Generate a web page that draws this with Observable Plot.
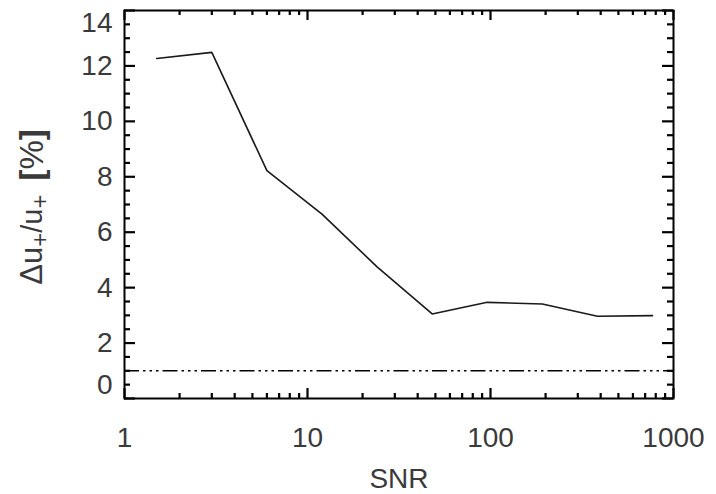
<!DOCTYPE html>
<html>
<head>
<meta charset="utf-8">
<script src="https://cdn.jsdelivr.net/npm/d3@7"></script>
<script src="https://cdn.jsdelivr.net/npm/@observablehq/plot@0.6"></script>
<style>
  body { margin: 0; background: #fff; }
</style>
</head>
<body>
<div id="chart"></div>
<script>
// Data
const snr = [1.5, 3, 6, 12, 24, 48, 96, 192, 384, 768];
const deltaU = [12.27, 12.49, 8.22, 6.65, 4.75, 3.05, 3.47, 3.41, 2.97, 2.99];
const referenceLevel = [1];

// Tick values
const xMajor = [1, 10, 100, 1000];
const xMinor = [2, 3, 4, 5, 6, 7, 8, 9, 20, 30, 40, 50, 60, 70, 80, 90, 200, 300, 400, 500, 600, 700, 800, 900];
const yMajor = [0, 2, 4, 6, 8, 10, 12, 14];
const yMinor = [0.5, 1, 1.5, 2.5, 3, 3.5, 4.5, 5, 5.5, 6.5, 7, 7.5, 8.5, 9, 9.5, 10.5, 11, 11.5, 12.5, 13, 13.5];
const yLabelsInner = [2, 4, 6, 8, 10, 12];
const yLabelTop = [14];
const yLabelBottom = [0];

const table = snr.map((s, i) => ({snr: s, du: deltaU[i]}));

const W = 716, H = 494;
const M = {left: 124, right: 43, top: 10, bottom: 96};
const plotW = W - M.left - M.right;
const plotH = H - M.top - M.bottom;
const ink = "#000";
const labelColor = "#3a3a3a";

// inward ticks drawn with the library's tick marks, shortened by insets
const xTicks = (values, side, len) => Plot.tickX(values, {
  x: d => d, stroke: ink, strokeWidth: 2.2,
  insetTop: side === "bottom" ? plotH - len : 0,
  insetBottom: side === "top" ? plotH - len : 0
});
const yTicks = (values, side, len) => Plot.tickY(values, {
  y: d => d, stroke: ink, strokeWidth: 2.2,
  insetRight: side === "left" ? plotW - len : 0,
  insetLeft: side === "right" ? plotW - len : 0
});

const chart = Plot.plot({
  width: W,
  height: H,
  marginLeft: M.left,
  marginRight: M.right,
  marginTop: M.top,
  marginBottom: M.bottom,
  style: {fontFamily: "Liberation Sans, Arial, sans-serif", fontSize: "28px"},
  x: {type: "log", domain: [1, 1000], axis: null},
  y: {type: "linear", domain: [0, 14], axis: null},
  marks: [
    xTicks(xMajor, "bottom", 10),
    xTicks(xMinor, "bottom", 5),
    xTicks(xMajor, "top", 10),
    xTicks(xMinor, "top", 5),
    yTicks(yMajor, "left", 11),
    yTicks(yMinor, "left", 6),
    yTicks(yMajor, "right", 11),
    yTicks(yMinor, "right", 6),
    // tick labels
    Plot.axisX(xMajor, {anchor: "bottom", tickSize: 0, tickPadding: 29, label: null, fill: labelColor, tickFormat: d => String(d)}),
    Plot.axisY(yLabelsInner, {anchor: "left", tickSize: 0, tickPadding: 12, label: null, fill: labelColor}),
    Plot.axisY(yLabelTop, {anchor: "left", tickSize: 0, tickPadding: 12, label: null, fill: labelColor, dy: 13}),
    Plot.axisY(yLabelBottom, {anchor: "left", tickSize: 0, tickPadding: 12, label: null, fill: labelColor, dy: -13}),
    // x label
    Plot.text(["SNR"], {frameAnchor: "bottom", dy: 70, lineAnchor: "top", fill: labelColor, fontSize: 28}),
    // reference dash-dot-dot-dot line
    Plot.ruleY(referenceLevel, {stroke: ink, strokeWidth: 1.6, strokeDasharray: "15,4,2.5,4,2.5,4,2.5,4"}),
    // data line
    Plot.line(table, {x: "snr", y: "du", stroke: "#1a1a1a", strokeWidth: 1.6}),
    Plot.frame({stroke: ink, strokeWidth: 2})
  ]
});

// y-axis title with subscripts
const svg = d3.select(chart);
const yt = svg.append("text")
  .attr("transform", "translate(34,207) rotate(-90)")
  .attr("text-anchor", "middle")
  .attr("dominant-baseline", "middle")
  .attr("fill", labelColor)
  .attr("font-size", 29)
  .attr("font-family", "Liberation Sans, Arial, sans-serif");
yt.append("tspan").attr("font-size", 31).text("\u0394u");
yt.append("tspan").attr("dy", 8).attr("font-size", 24).text("+");
yt.append("tspan").attr("dy", -8).text("/u");
yt.append("tspan").attr("dy", 8).attr("font-size", 24).text("+");
yt.append("tspan").attr("dy", -8).attr("dx", 14).attr("font-size", 33).attr("font-weight", "bold").text("[");
yt.append("tspan").attr("font-size", 33).text("%");
yt.append("tspan").attr("font-size", 33).attr("font-weight", "bold").text("]");

document.getElementById("chart").appendChild(chart);
</script>
</body>
</html>
